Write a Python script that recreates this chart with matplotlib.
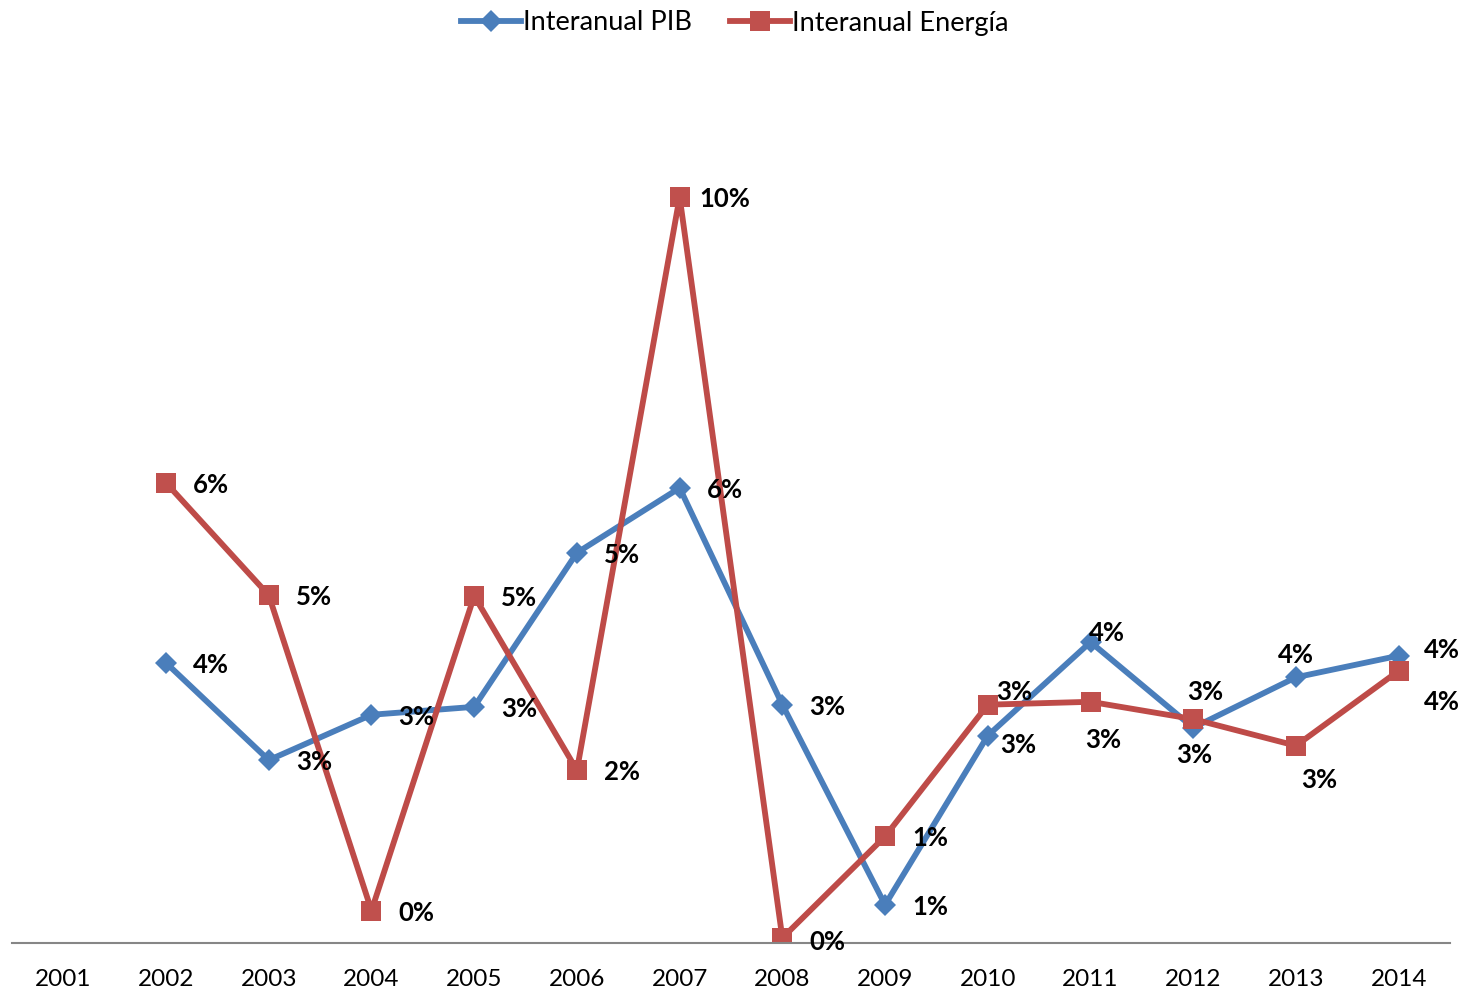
import matplotlib
matplotlib.use("Agg")
import matplotlib.pyplot as plt
import numpy as np

years = ["2001", "2002", "2003", "2004", "2005", "2006", "2007",
         "2008", "2009", "2010", "2011", "2012", "2013", "2014"]
# year-on-year change, percent (2001 has no value)
pib = [np.nan, 3.89, 2.54, 3.17, 3.28, 5.42, 6.32,
       3.31, 0.53, 2.88, 4.18, 2.99, 3.69, 3.99]
energia = [np.nan, 6.39, 4.83, 0.45, 4.82, 2.40, 10.36,
           0.07, 1.48, 3.31, 3.35, 3.11, 2.74, 3.78]

BLUE = "#4A7EBB"
RED = "#BE4B48"
FONT = "Lato"

# label centre offsets in pixels (dx, dy up), default = right of marker
RIGHT = (45, -2)
pib_off = {9: (30, -9), 10: (16, 9), 11: (1, -27), 12: (0, 22), 13: (43, 6)}
ene_off = {9: (26, 13), 10: (13, -38), 11: (12, 27), 12: (23, -34),
           13: (43, -31), 7: (45, -4)}

plt.rcParams["font.family"] = [FONT, "DejaVu Sans"]

fig = plt.figure(figsize=(14.62, 9.9), dpi=100)
ax = fig.add_axes([12 / 1462, 47 / 990, 1438 / 1462, 864 / 990])
x = np.arange(len(years))

ax.plot(x, pib, color=BLUE, lw=4.2, marker="D", ms=11, mew=0,
        label="Interanual PIB", solid_joinstyle="miter")
ax.plot(x, energia, color=RED, lw=4.2, marker="s", ms=14.5, mew=0,
        mfc="#C0504D", label="Interanual Energía", solid_joinstyle="miter")


def add_labels(vals, offs):
    for i, v in enumerate(vals):
        if np.isnan(v):
            continue
        dx, dy = offs.get(i, RIGHT)
        ax.annotate(f"{int(v + 0.5)}%", (x[i], v), xytext=(dx, dy),
                    textcoords="offset pixels", ha="center", va="center",
                    fontsize=18.5, fontweight="bold", color="black",
                    zorder=5)


add_labels(pib, pib_off)
add_labels(energia, ene_off)

ax.set_xlim(-0.5, len(years) - 0.5)
ax.set_ylim(0, 12)
ax.set_xticks(x)
ax.set_xticklabels(years, fontsize=17.5)
ax.set_yticks([])
ax.tick_params(axis="x", length=0, pad=19)
for side in ("top", "right", "left"):
    ax.spines[side].set_visible(False)
ax.spines["bottom"].set_color("#868686")
ax.spines["bottom"].set_linewidth(1.5)

leg = fig.legend(loc="center", bbox_to_anchor=(735 / 1462, 1 - 23 / 990),
                 ncol=2, frameon=False, fontsize=19.5, handlelength=2.2,
                 handletextpad=0.1, columnspacing=1.4)

fig.savefig("out.png", dpi=100)
